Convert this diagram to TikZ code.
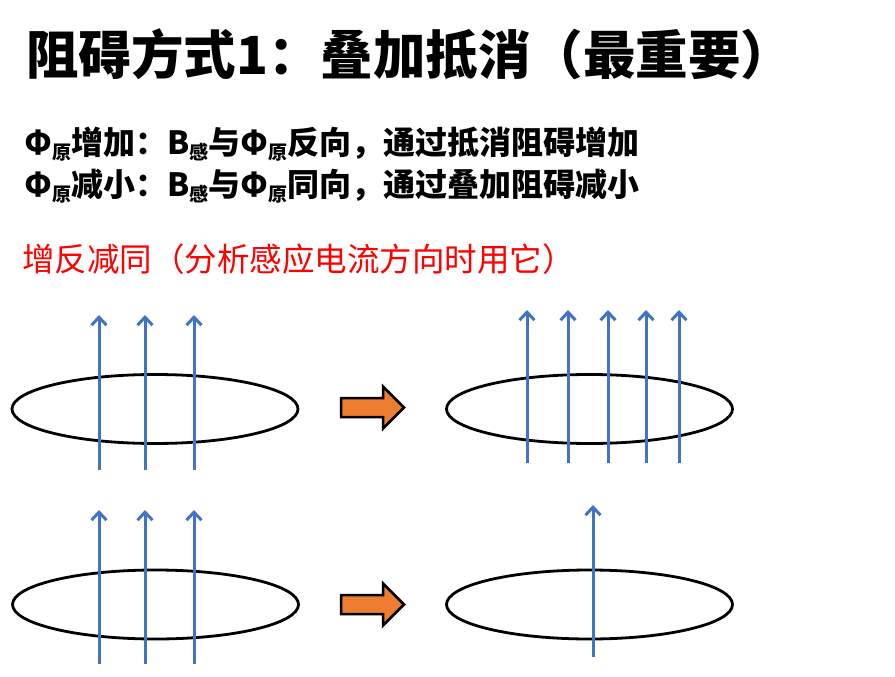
\documentclass[tikz,border=0pt]{standalone}
\usepackage{fontspec}
\setmainfont{Noto Sans CJK SC}
\usetikzlibrary{arrows.meta, positioning, shapes.geometric}
\definecolor{fieldblue}{RGB}{68,114,196}
\definecolor{pushorange}{RGB}{237,125,49}
\newcommand{\subword}[1]{\raisebox{-5pt}{\fontsize{19}{19}\selectfont #1}}

\begin{document}
\begin{tikzpicture}[x=1pt, y=-1pt,
    textline/.style={anchor=base west, inner sep=0pt},
    loopring/.style={draw, ellipse, line width=2.8pt, inner sep=0pt, minimum width=286pt, minimum height=69pt},
    fieldline/.style={draw=fieldblue, line width=3pt, -{Straight Barb[length=8pt, width=15pt]}},
    pusharrow/.style={draw, line width=2.5pt, fill=pushorange, line join=miter}]
    \useasboundingbox (0, 0) rectangle (895, 677);

    % 标题与说明
    \node[textline, font=\fontsize{52.5}{60}\selectfont\bfseries] (title) at (26, 75) {阻碍方式1：叠加抵消（最重要）};
    \node[textline, font=\fontsize{32}{38}\selectfont\bfseries] (ruleUp) at (24, 154)
        {Φ\subword{原}增加：B\subword{感}与Φ\subword{原}反向，通过抵消阻碍增加};
    \node[textline, font=\fontsize{32}{38}\selectfont\bfseries] (ruleDown) at (24, 196)
        {Φ\subword{原}减小：B\subword{感}与Φ\subword{原}同向，通过叠加阻碍减小};
    \node[textline, font=\fontsize{32.5}{38}\selectfont, text=red] (hint) at (22, 271)
        {增反减同（分析感应电流方向时用它）};

    % 线圈
    \node[loopring] (loopA) at (155, 409) {};
    \node[loopring] (loopB) at (589.5, 409) {};
    \node[loopring] (loopC) at (155.5, 604.5) {};
    \node[loopring] (loopD) at (589.5, 604.5) {};

    % 磁感线
    \foreach \x in {99, 145, 194}
        \draw[fieldline] (\x, 470) -- (\x, 315);
    \foreach \x in {527, 568, 608, 646, 679}
        \draw[fieldline] (\x, 463) -- (\x, 310);
    \foreach \x in {99, 145, 194}
        \draw[fieldline] (\x, 664) -- (\x, 510);
    \draw[fieldline] (593, 657) -- (593, 505);

    % 过程箭头
    \foreach \y in {407.5, 604.5}
        \draw[pusharrow] (341, \y-9.5) -- (383, \y-9.5) -- (383, \y-21) -- (404, \y)
            -- (383, \y+21) -- (383, \y+9.5) -- (341, \y+9.5) -- cycle;
\end{tikzpicture}
\end{document}
